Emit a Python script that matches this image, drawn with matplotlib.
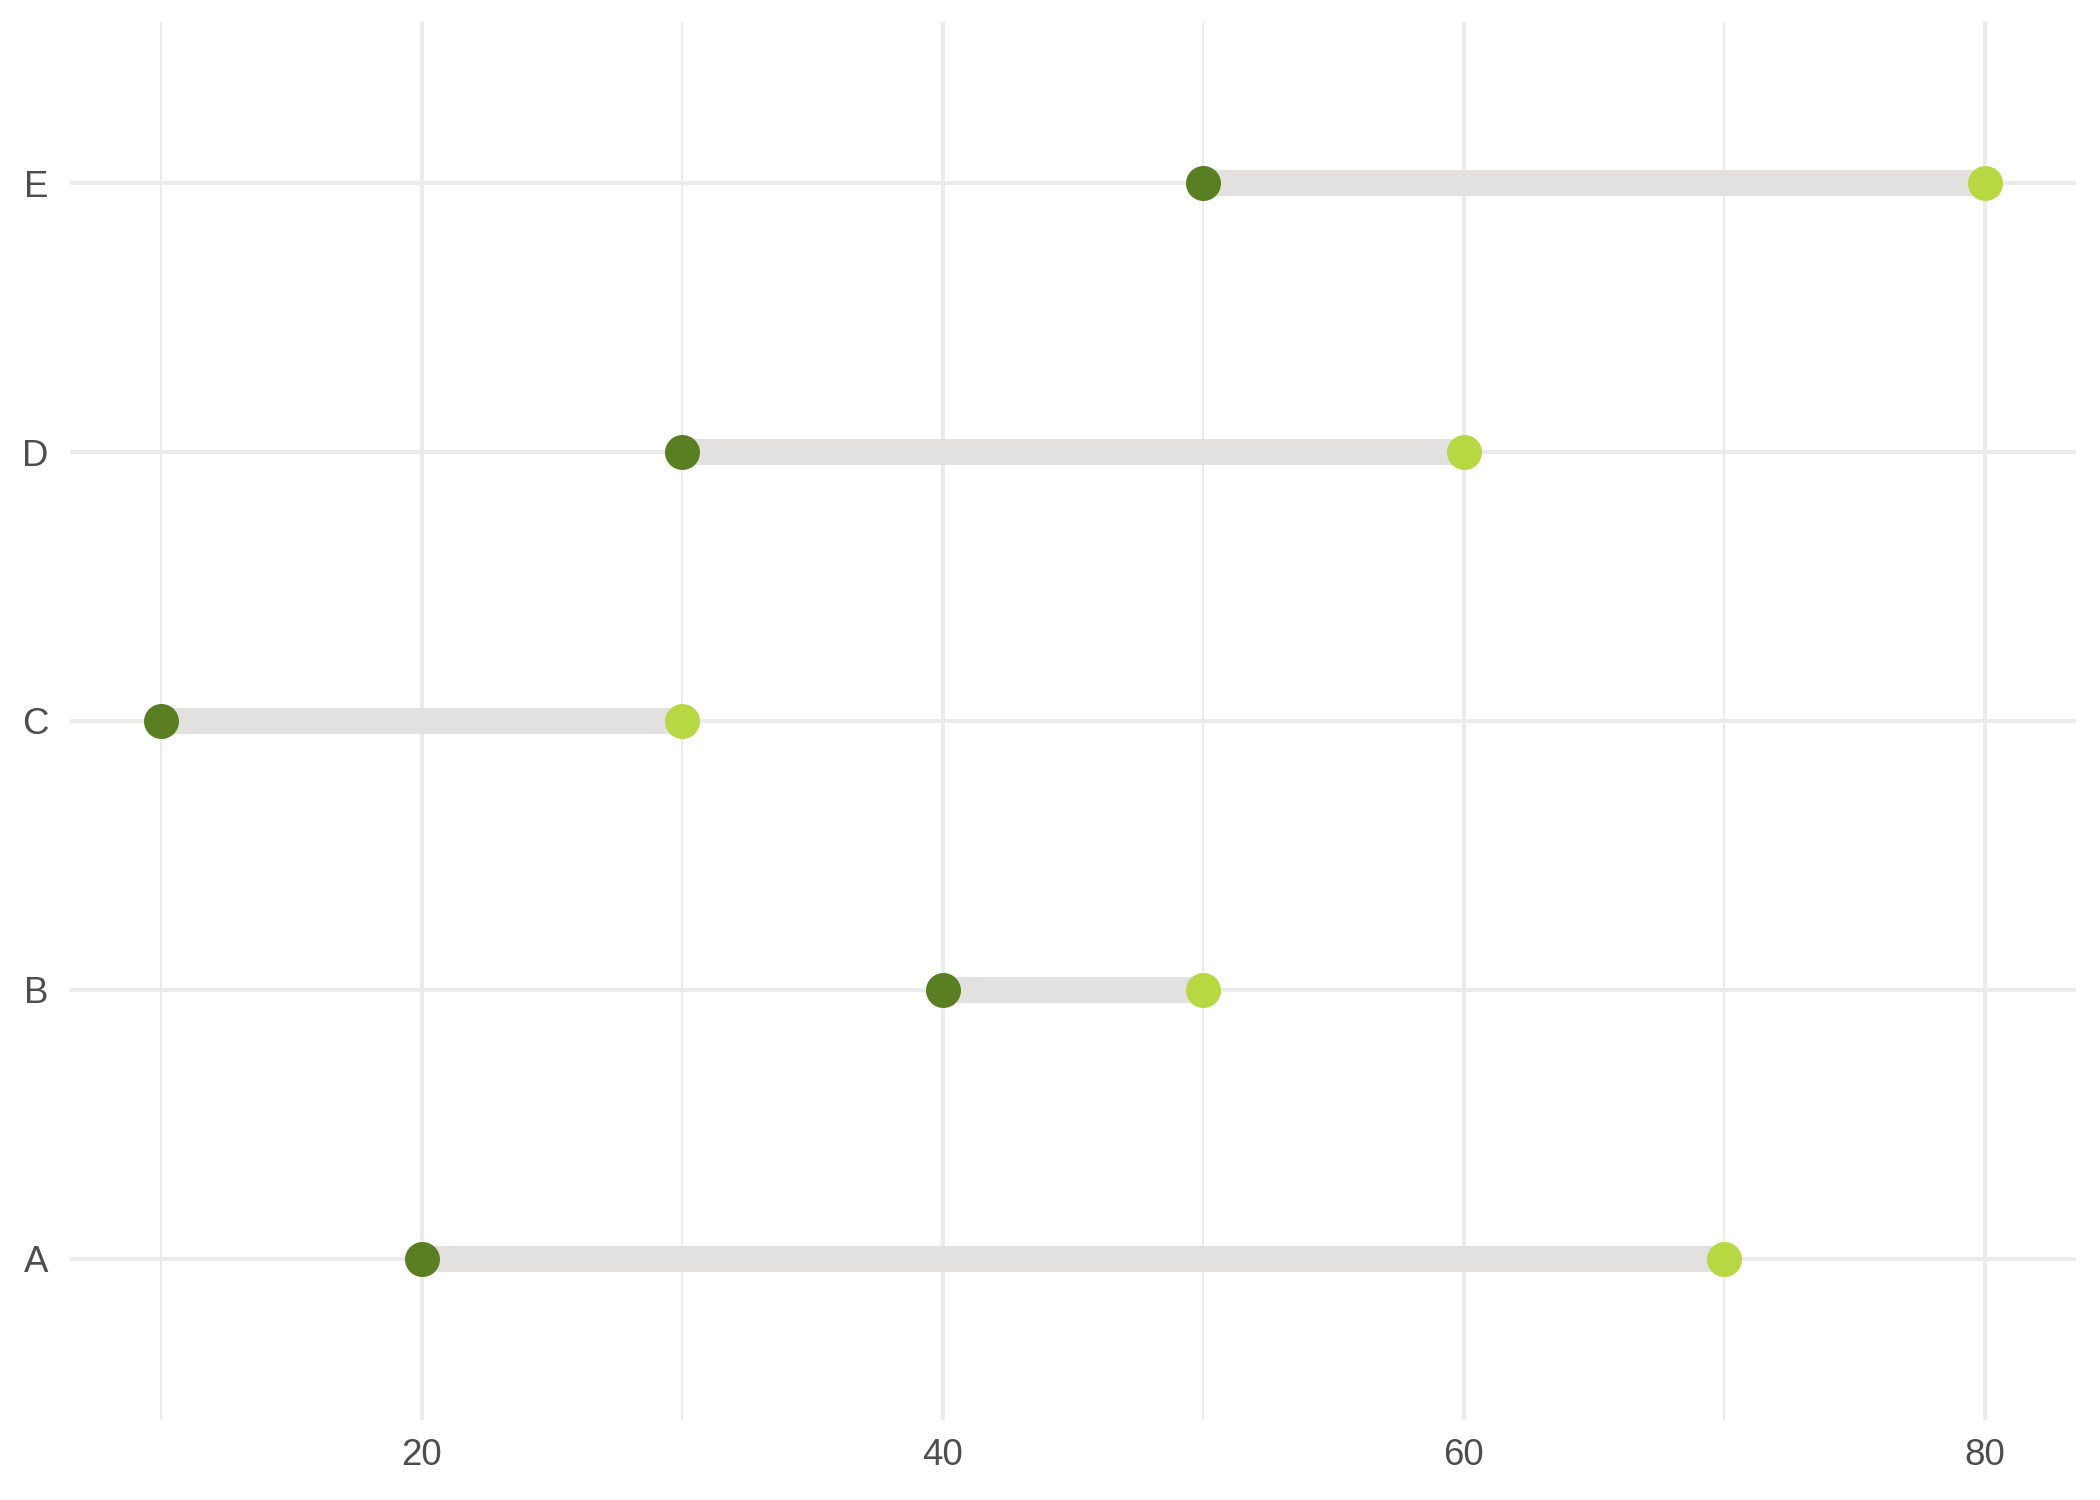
import matplotlib
matplotlib.use('Agg')
import matplotlib.pyplot as plt

# data
categories = ['A', 'B', 'C', 'D', 'E']
start_values = [20, 40, 10, 30, 50]
end_values = [70, 50, 30, 60, 80]

plt.rcParams['font.family'] = ['Liberation Sans', 'DejaVu Sans']

fig = plt.figure(figsize=(7, 5), dpi=300)
ax = fig.add_axes([70 / 2100, 1 - 1420 / 1500, 2006 / 2100, 1398 / 1500])

ypos = list(range(len(categories)))

# segments
ax.hlines(ypos, start_values, end_values, color='#e2e1df', linewidth=6.2, zorder=2)
# end points
ax.scatter(start_values, ypos, s=8.4 ** 2, color='#5a7f23', zorder=3, linewidths=0)
ax.scatter(end_values, ypos, s=8.4 ** 2, color='#b8d843', zorder=3, linewidths=0)

# axes ranges like ggplot expansion
lo, hi = min(start_values), max(end_values)
pad = (hi - lo) * 0.05
ax.set_xlim(lo - pad, hi + pad)
ax.set_ylim(-0.6, len(categories) - 1 + 0.6)

ax.set_xticks([20, 40, 60, 80])
ax.set_xticks([10, 30, 50, 70], minor=True)
ax.set_yticks(ypos)
ax.set_yticklabels(categories)

ax.grid(True, which='major', color='#ebebeb', linewidth=0.96, zorder=0)
ax.grid(True, which='minor', axis='x', color='#ebebeb', linewidth=0.48, zorder=0)
ax.set_axisbelow(True)

for s in ax.spines.values():
    s.set_visible(False)
ax.tick_params(which='both', length=0, labelsize=8.8, labelcolor='#4d4d4d')
ax.tick_params(axis='x', pad=4.4)
ax.tick_params(axis='y', pad=5.2)

fig.savefig('out.png', dpi=300, facecolor='white')
